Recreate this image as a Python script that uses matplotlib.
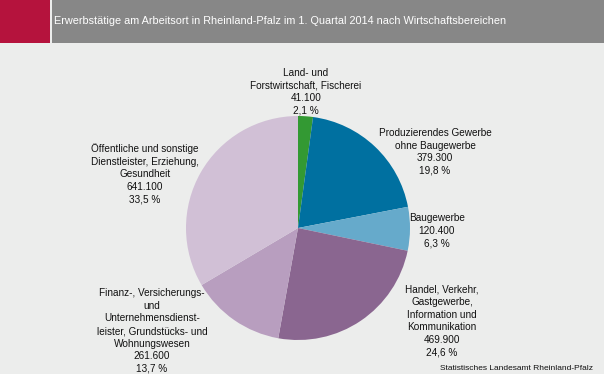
import matplotlib.pyplot as plt
from matplotlib.patches import Rectangle

plt.rcParams['font.family'] = ['Liberation Sans', 'DejaVu Sans']

# Erwerbstätige in 1000, Reihenfolge im Uhrzeigersinn ab 12 Uhr
bereiche = ["Land- und\nForstwirtschaft, Fischerei",
            "Produzierendes Gewerbe\nohne Baugewerbe",
            "Baugewerbe",
            "Handel, Verkehr,\nGastgewerbe,\nInformation und\nKommunikation",
            "Finanz-, Versicherungs-\nund\nUnternehmensdienst-\nleister, Grundstücks- und\nWohnungswesen",
            "Öffentliche und sonstige\nDienstleister, Erziehung,\nGesundheit"]
werte = [41.1, 379.3, 120.4, 469.9, 261.6, 641.1]
werte_text = ["41.100", "379.300", "120.400", "469.900", "261.600", "641.100"]
anteile = ["2,1 %", "19,8 %", "6,3 %", "24,6 %", "13,7 %", "33,5 %"]
farben = ["#339933", "#0070A0", "#66AACB", "#8A6690", "#B89EBF", "#D1C0D6"]

# label centres in pixels (x, y from top)
label_pos = [(306, 92), (435, 152), (437, 231), (442, 321), (152, 331), (145, 174)]

W, H = 604, 374
fig = plt.figure(figsize=(W / 100, H / 100), dpi=100)
fig.patch.set_facecolor("#ECEDEC")

# header
fig.add_artist(Rectangle((0, 1 - 43 / H), 50 / W, 43 / H, transform=fig.transFigure,
                         facecolor="#B5133D", edgecolor="none"))
fig.add_artist(Rectangle((52 / W, 1 - 43 / H), 1 - 52 / W, 43 / H, transform=fig.transFigure,
                         facecolor="#878787", edgecolor="none"))
fig.text(54 / W, 1 - 21 / H,
         "Erwerbstätige am Arbeitsort in Rheinland-Pfalz im 1. Quartal 2014 nach Wirtschaftsbereichen",
         color="white", fontsize=7.85, va="center", ha="left")

cx, cy, r = 298, 228, 112
ax = fig.add_axes([(cx - r) / W, (H - cy - r) / H, 2 * r / W, 2 * r / H])
ax.pie(werte, colors=farben, startangle=90, counterclock=False,
       wedgeprops=dict(linewidth=0))
ax.set_xlim(-1, 1)
ax.set_ylim(-1, 1)
ax.axis("off")

for name, wert, anteil, (px, py) in zip(bereiche, werte_text, anteile, label_pos):
    fig.text(px / W, 1 - py / H, f"{name}\n{wert}\n{anteil}", ha="center", va="center",
             multialignment="center", fontsize=7.2, linespacing=1.32, color="#111111")

fig.text(593 / W, 1 - 369 / H, "Statistisches Landesamt Rheinland-Pfalz",
         ha="right", va="center", fontsize=6.0, color="#111111")

fig.savefig("out.png", dpi=100, facecolor=fig.get_facecolor())
